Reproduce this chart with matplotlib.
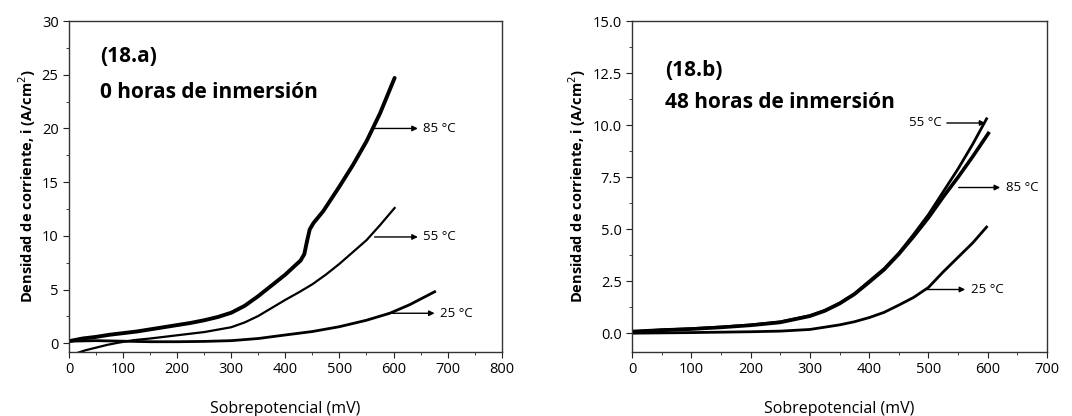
import numpy as np
import matplotlib.pyplot as plt

# (18.a) 0 horas de inmersion
a_x85 = [0, 25, 50, 75, 100, 125, 150, 175, 200, 225, 250, 275, 300, 325, 350, 375, 400, 415,
         428, 435, 440, 445, 452, 470, 500, 525, 550, 575, 602]
a_y85 = [0.2, 0.45, 0.6, 0.8, 0.95, 1.1, 1.3, 1.5, 1.7, 1.9, 2.15, 2.45, 2.85, 3.5, 4.4, 5.4, 6.4, 7.1,
         7.7, 8.3, 9.5, 10.6, 11.2, 12.3, 14.6, 16.6, 18.8, 21.4, 24.7]
a_x55 = [15, 30, 50, 70, 90, 120, 150, 200, 250, 300, 325, 350, 375, 400, 425, 450, 475, 500,
         525, 550, 575, 602]
a_y55 = [-0.9, -0.65, -0.4, -0.15, 0.05, 0.3, 0.45, 0.75, 1.05, 1.5, 1.95, 2.55, 3.3, 4.05, 4.75,
         5.5, 6.4, 7.4, 8.5, 9.6, 11.0, 12.6]
a_x25 = [0, 50, 100, 150, 200, 250, 300, 350, 400, 450, 500, 550, 593, 630, 676]
a_y25 = [0.2, 0.25, 0.2, 0.15, 0.15, 0.18, 0.25, 0.45, 0.78, 1.1, 1.55, 2.15, 2.8, 3.6, 4.8]

# (18.b) 48 horas de inmersion
b_x55 = [0, 50, 100, 150, 200, 250, 300, 325, 350, 375, 400, 425, 450, 475, 500, 525, 550, 575, 598]
b_y55 = [0.1, 0.17, 0.22, 0.3, 0.4, 0.55, 0.85, 1.1, 1.45, 1.9, 2.5, 3.1, 3.85, 4.75, 5.7, 6.8,
         7.9, 9.1, 10.3]
b_x85 = [0, 50, 100, 150, 200, 250, 300, 325, 350, 375, 400, 425, 450, 475, 500, 525, 550, 575, 601]
b_y85 = [0.05, 0.14, 0.2, 0.28, 0.38, 0.52, 0.82, 1.07, 1.42, 1.87, 2.45, 3.05, 3.8, 4.65, 5.55,
         6.55, 7.5, 8.5, 9.6]
b_x25 = [0, 100, 200, 250, 300, 350, 375, 400, 425, 450, 475, 500, 525, 550, 575, 598]
b_y25 = [0.0, 0.03, 0.07, 0.1, 0.18, 0.4, 0.55, 0.75, 1.0, 1.35, 1.72, 2.2, 2.95, 3.65, 4.35, 5.1]

label_font = 'Open Sans'
fig = plt.figure(figsize=(10.72, 4.16), dpi=100)
axa = fig.add_axes([0.0644, 0.154, 0.4036, 0.7955])
axb = fig.add_axes([0.5896, 0.154, 0.3871, 0.7955])


def style(ax, xmax, ylo, yhi, xstep, ystep, yfmt):
    ax.set_xlim(0, xmax)
    ax.set_ylim(ylo, yhi)
    ax.set_xticks(np.arange(0, xmax + 1, xstep))
    ax.set_xticks(np.arange(xstep / 2, xmax, xstep), minor=True)
    yt = np.arange(0, yhi + 0.001, ystep)
    ax.set_yticks(yt)
    ax.set_yticklabels([yfmt.format(v) for v in yt])
    ax.set_yticks(np.arange(ystep / 2, yhi, ystep), minor=True)
    ax.tick_params(which='both', direction='out', top=False, right=False,
                   labelsize=10.5, color='#222222')
    ax.tick_params(which='major', length=4)
    ax.tick_params(which='minor', length=2.5)
    for lab in ax.get_xticklabels() + ax.get_yticklabels():
        lab.set_family(label_font)
    for s in ax.spines.values():
        s.set_color('#333333')
        s.set_linewidth(1.0)
    ax.set_xlabel('Sobrepotencial (mV)', fontsize=11.5, family=label_font, labelpad=17)
    ax.set_ylabel('Densidad de corriente, i (A/cm$^{2}$)', fontsize=10.5,
                  family=label_font, fontweight='bold', labelpad=3)


def arrow(ax, x0, x1, y, text, tx=None, ha='left'):
    ax.annotate('', xy=(x1, y), xytext=(x0, y),
                arrowprops=dict(arrowstyle='-|>', color='black', lw=1.0,
                                mutation_scale=8, shrinkA=0, shrinkB=0))
    if tx is None:
        tx = x1 + 10
    ax.text(tx, y, text, fontsize=9.5, family=label_font, va='center', ha=ha)


# left panel
axa.plot(a_x85, a_y85, color='black', lw=2.8, solid_capstyle='round', solid_joinstyle='round')
axa.plot(a_x55, a_y55, color='black', lw=1.6, solid_joinstyle='round')
axa.plot(a_x25, a_y25, color='black', lw=2.0, solid_joinstyle='round')
style(axa, 800, -0.8, 30, 100, 5, '{:.0f}')
arrow(axa, 562, 645, 20.0, '85 °C')
arrow(axa, 565, 645, 9.9, '55 °C')
arrow(axa, 590, 676, 2.8, '25 °C')
axa.text(57, 26.7, '(18.a)', fontsize=15, fontweight='bold', family=label_font, va='center')
axa.text(57, 23.3, '0 horas de inmersión', fontsize=15, fontweight='bold', family=label_font, va='center')

# right panel
axb.plot(b_x55, b_y55, color='black', lw=2.0, solid_joinstyle='round')
axb.plot(b_x85, b_y85, color='black', lw=2.6, solid_joinstyle='round')
axb.plot(b_x25, b_y25, color='black', lw=2.0, solid_joinstyle='round')
style(axb, 700, -0.9, 15, 100, 2.5, '{:.1f}')
arrow(axb, 531, 596, 10.1, '55 °C', tx=522, ha='right')
arrow(axb, 551, 621, 7.0, '85 °C')
arrow(axb, 497, 562, 2.1, '25 °C')
axb.text(55, 12.6, '(18.b)', fontsize=15, fontweight='bold', family=label_font, va='center')
axb.text(55, 11.1, '48 horas de inmersión', fontsize=15, fontweight='bold', family=label_font, va='center')

fig.savefig('out.png', dpi=100)
